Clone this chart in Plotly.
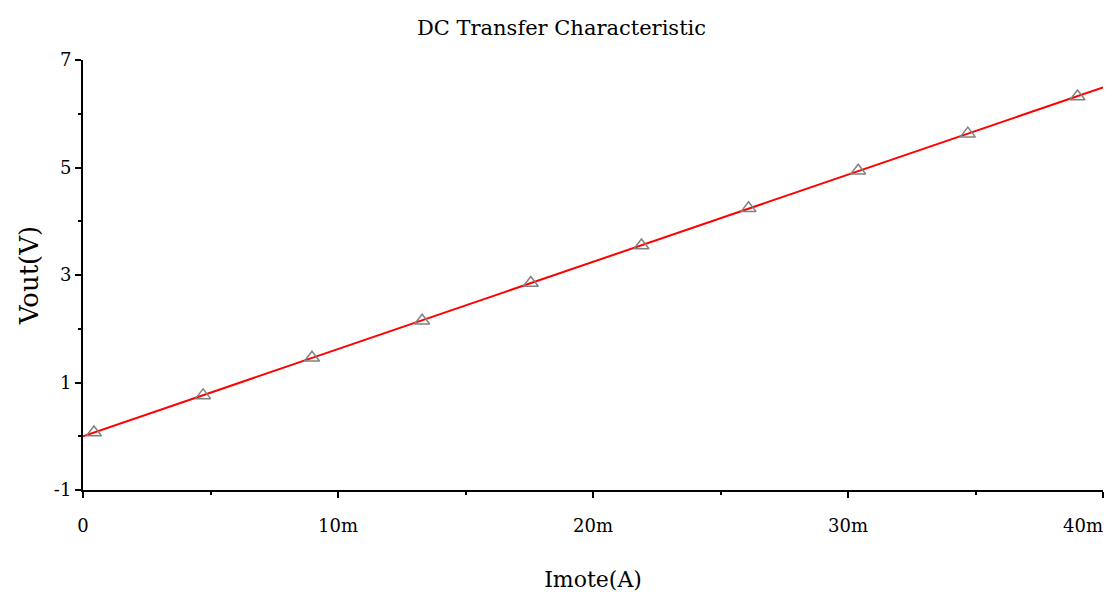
import plotly.graph_objects as go

# Line trace (Imote in A, Vout in V)
line_imote = [0.0, 0.040]
line_vout = [0.0, 6.49]

# Marker points
marker_imote = [0.00043, 0.00471, 0.00898, 0.0133, 0.01756, 0.0219, 0.0261, 0.0304, 0.0347, 0.0390]
marker_vout = [0.07, 0.76, 1.46, 2.15, 2.85, 3.55, 4.24, 4.94, 5.63, 6.32]

x_tickvals = [0, 0.01, 0.02, 0.03, 0.04]
x_ticktext = ["0", "10m", "20m", "30m", "40m" + "&nbsp;" * 7]
y_tickvals = [-1, 1, 3, 5, 7]
y_ticktext = ["-1", "1", "3", "5", "7"]

font_family = "DejaVu Serif"

fig = go.Figure()
fig.add_trace(go.Scatter(x=line_imote, y=line_vout, mode="lines",
                         line=dict(color="#ff0000", width=2), showlegend=False, cliponaxis=False))
fig.add_trace(go.Scatter(x=marker_imote, y=marker_vout, mode="markers",
                         marker=dict(symbol="triangle-up-open", size=13, color="#808080",
                                     line=dict(width=1.5, color="#808080")),
                         showlegend=False))

fig.update_layout(
    width=1107, height=584,
    margin=dict(l=75, r=12, t=52, b=102),
    paper_bgcolor="white", plot_bgcolor="white",
    font=dict(family=font_family, color="black", size=18),
    title=dict(text="DC Transfer Characteristic", x=0.5, xanchor="center",
               y=0.966, yanchor="middle", automargin=False,
               font=dict(size=21, family=font_family)),
    xaxis=dict(range=[0, 0.0400001], tickvals=x_tickvals, ticktext=x_ticktext,
               automargin=False, ticklabeloverflow="allow", ticklabelstandoff=12,
               showgrid=False, zeroline=False, showline=True, linecolor="black", linewidth=2,
               ticks="outside", ticklen=6, tickcolor="black", tickwidth=1.5,
               minor=dict(tickvals=[0.005, 0.015, 0.025, 0.035], ticks="outside", ticklen=3,
                          tickcolor="black", tickwidth=1.5),
               tickfont=dict(size=18),
               title=dict(text="Imote(A)", font=dict(size=22), standoff=47)),
    yaxis=dict(range=[-1, 7], tickvals=y_tickvals, ticktext=y_ticktext,
               automargin=False, ticklabeloverflow="allow",
               showgrid=False, zeroline=False, showline=True, linecolor="black", linewidth=2,
               ticks="outside", ticklen=6, tickcolor="black", tickwidth=1.5,
               minor=dict(tickvals=[0, 2, 4, 6], ticks="outside", ticklen=3,
                          tickcolor="black", tickwidth=1.5),
               tickfont=dict(size=18),
               title=dict(text="Vout(V)", font=dict(size=26), standoff=8)),
)

fig.write_html("out.html")
